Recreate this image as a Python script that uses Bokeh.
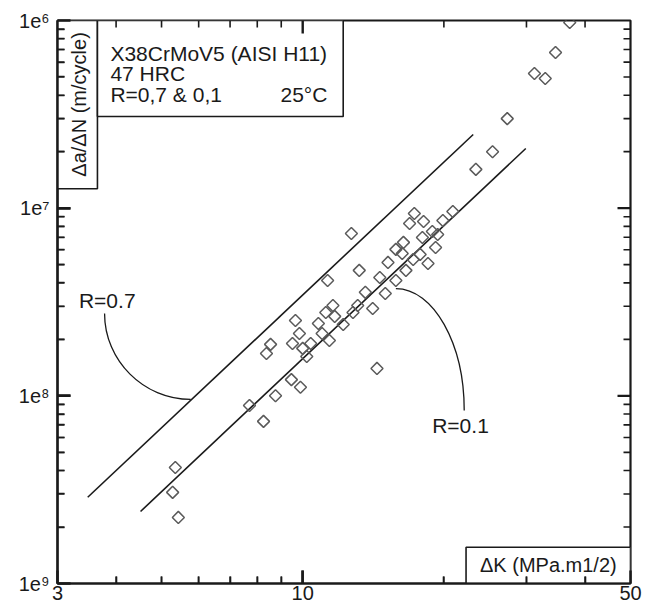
import numpy as np
from bokeh.plotting import figure
from bokeh.models import FixedTicker, Range1d, BoxAnnotation
from bokeh.core.properties import value
from bokeh.embed import file_html
from bokeh.resources import INLINE

# ---------------- data ----------------
delta_k = [37.1, 34.6, 31.2, 32.9, 27.3, 25.4, 23.4, 20.9, 19.9, 17.3,
           16.9, 18.1, 18.9, 19.4, 18.0, 19.2, 16.4, 15.8, 16.3, 17.8,
           17.2, 18.5, 15.2, 14.6, 16.6, 15.8, 15.0, 14.1, 12.7, 13.2,
           11.3, 13.6, 12.8, 13.1, 11.6, 11.2, 11.7, 12.2, 11.4, 11.0,
           10.8, 9.65, 9.84, 9.51, 8.54, 8.37, 10.4, 10.0, 10.2, 9.46,
           9.89, 8.75, 7.70, 8.25, 5.35, 5.28, 5.43, 14.4]
dadn = [9.76e-7, 6.75e-7, 5.22e-7, 4.91e-7, 3.00e-7, 2.00e-7, 1.61e-7, 9.60e-8, 8.60e-8, 9.37e-8,
        8.29e-8, 8.49e-8, 7.51e-8, 7.24e-8, 6.98e-8, 6.17e-8, 6.57e-8, 6.03e-8, 5.74e-8, 5.67e-8,
        5.33e-8, 5.07e-8, 5.14e-8, 4.27e-8, 4.66e-8, 4.12e-8, 3.51e-8, 2.92e-8, 7.33e-8, 4.66e-8,
        4.12e-8, 3.56e-8, 2.78e-8, 3.03e-8, 3.03e-8, 2.78e-8, 2.65e-8, 2.40e-8, 1.97e-8, 2.15e-8,
        2.43e-8, 2.52e-8, 2.15e-8, 1.90e-8, 1.88e-8, 1.68e-8, 1.90e-8, 1.79e-8, 1.62e-8, 1.22e-8,
        1.11e-8, 1.00e-8, 8.89e-9, 7.31e-9, 4.15e-9, 3.06e-9, 2.25e-9, 1.40e-8]

# fitted Paris lines
r07_dk = [3.48, 23.1]
r07_dadn = [2.88e-9, 2.47e-7]
r01_dk = [4.51, 29.9]
r01_dadn = [2.42e-9, 2.08e-7]

# ticks and tick labels
x_ticks = [3.0, 10.0, 50.0]
x_tick_labels = ["3", "10", "50"]
x_minor = [4.0, 5.0, 6.0, 7.0, 8.0, 9.0, 20.0, 30.0, 40.0]
y_ticks = [1e-9, 1e-8, 1e-7, 1e-6]
y_tick_labels = ["1e\u2079", "1e\u2078", "1e\u2077", "1e\u2076"]
y_minor = [m * 10.0 ** k for k in (-9, -8, -7) for m in range(2, 10)]

# texts
title_lines = ["X38CrMoV5 (AISI H11)", "47 HRC", "R=0,7 & 0,1"]
temp_text = "25\u00b0C"
y_label = "\u0394a/\u0394N (m/cycle)"
x_label = "\u0394K (MPa.m1/2)"
ann_labels = ["R=0.7", "R=0.1"]

# ---------------- layout ----------------
FONT = value("Liberation Sans")
INK = "#1a1a1a"
W, H = 650, 608
BL, BR, BT, BB = 57, 20, 20, 25
XMIN, XMAX, YMIN, YMAX = 3.0, 50.0, 1e-9, 1e-6
FW, FH = W - BL - BR, H - BT - BB
PPD_X = FW / np.log10(XMAX / XMIN)   # pixels per decade
PPD_Y = FH / np.log10(YMAX / YMIN)

p = figure(width=W, height=H, x_axis_type="log", y_axis_type="log",
           x_range=Range1d(XMIN, XMAX), y_range=Range1d(YMIN, YMAX),
           output_backend="svg", toolbar_location=None,
           min_border_left=BL, min_border_right=BR, min_border_top=BT, min_border_bottom=BB)
p.grid.visible = False
p.background_fill_color = "white"
p.border_fill_color = "white"
p.outline_line_color = INK
p.outline_line_width = 2.2

for ax in (p.xaxis[0], p.yaxis[0]):
    ax.axis_line_color = INK
    ax.axis_line_width = 2.2
    ax.major_tick_in = 13
    ax.major_tick_out = 0
    ax.minor_tick_in = 7
    ax.minor_tick_out = 0
    ax.major_tick_line_color = INK
    ax.major_tick_line_width = 2.4
    ax.minor_tick_line_color = INK
    ax.minor_tick_line_width = 1.6
    ax.major_label_text_font = "Liberation Sans"
    ax.major_label_text_color = INK

bx = p.xaxis[0]
bx.ticker = FixedTicker(ticks=x_ticks, minor_ticks=x_minor)
bx.major_label_overrides = dict(zip(x_ticks, x_tick_labels))
bx.major_label_text_font_size = "20px"
bx.major_label_standoff = 2

ly = p.yaxis[0]
ly.ticker = FixedTicker(ticks=y_ticks, minor_ticks=y_minor)
ly.major_label_overrides = dict(zip(y_ticks, y_tick_labels))
ly.major_label_text_font_size = "20px"
ly.major_label_standoff = 8

# Paris lines
p.line(r07_dk, r07_dadn, line_color=INK, line_width=1.6)
p.line(r01_dk, r01_dadn, line_color=INK, line_width=1.6)

# data points (open diamonds)
p.scatter(delta_k, dadn, marker="square", angle=np.pi / 4, size=8.5,
          fill_color=None, line_color="#5a5a5a", line_width=1.5)

# annotation curves and labels
p.bezier(x0=[3.78, 15.8], y0=[2.75e-8, 3.73e-8], x1=[5.77, 22.1], y1=[9.57e-9, 8.36e-9],
         cx0=[3.78, 19.0], cy0=[1.54e-8, 3.73e-8], cx1=[4.58, 22.1], cy1=[9.57e-9, 1.90e-8],
         line_color=INK, line_width=1.3)
p.text(x=[3.83, 21.7], y=[3.22e-8, 6.96e-9], text=ann_labels, text_font=FONT,
       text_font_size="21px", text_color=INK, text_align="center", text_baseline="middle")

# boxes (axis titles and legend box)
p.quad(left=[3, 3.65, 22.3], right=[3.65, 12.2, 50], top=[1e-6, 1e-6, 1.56e-9],
       bottom=[1.27e-7, 3.08e-7, 1e-9], fill_color="white", line_color=INK, line_width=1.6)

# title texts
p.text(x=[3.89] * 3, y=[6.63e-7, 5.25e-7, 4.01e-7], text=title_lines, text_font=FONT,
       text_font_size="21px", text_color=INK, text_align="left", text_baseline="middle")
p.text(x=[11.29], y=[4.01e-7], text=[temp_text], text_font=FONT,
       text_font_size="21px", text_color=INK, text_align="right", text_baseline="middle")

# axis label texts inside boxes
p.text(x=[3.34], y=[3.57e-7], text=[y_label], angle=np.pi / 2, text_font=FONT,
       text_font_size="20px", text_color=INK, text_align="center", text_baseline="middle")
p.text(x=[33.4], y=[1.25e-9], text=[x_label], text_font=FONT,
       text_font_size="20px", text_color=INK, text_align="center", text_baseline="middle")


# inward tick marks on all four sides as small box annotations (data units, log scales)
def add_ticks(xvals, yvals, length, thick):
    lx, ly_ = 10 ** (length / PPD_X), 10 ** (length / PPD_Y)
    hx, hy = 10 ** (thick / 2 / PPD_X), 10 ** (thick / 2 / PPD_Y)
    for v in xvals:
        if XMIN < v < XMAX:
            for b, t in ((YMIN, YMIN * ly_), (YMAX / ly_, YMAX)):
                p.add_layout(BoxAnnotation(left=v / hx, right=v * hx, bottom=b, top=t,
                                           fill_color=INK, fill_alpha=1.0, line_color=None,
                                           level="overlay"))
    for v in yvals:
        if YMIN < v < YMAX:
            for l, r in ((XMIN, XMIN * lx), (XMAX / lx, XMAX)):
                p.add_layout(BoxAnnotation(left=l, right=r, bottom=v / hy, top=v * hy,
                                           fill_color=INK, fill_alpha=1.0, line_color=None,
                                           level="overlay"))


add_ticks(x_ticks, y_ticks, 13, 2.4)
add_ticks(x_minor, y_minor, 7, 1.6)

open("out.html", "w").write(file_html(p, INLINE))
